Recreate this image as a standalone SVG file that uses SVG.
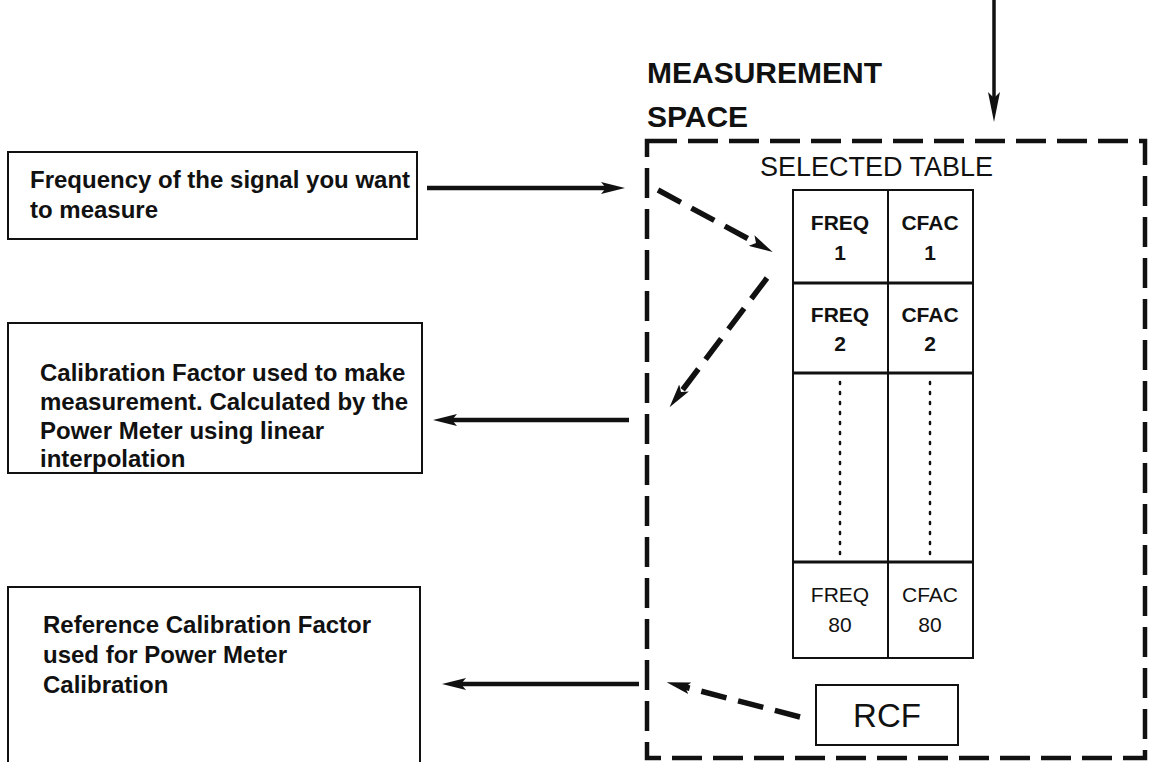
<svg xmlns="http://www.w3.org/2000/svg" width="1151" height="762" viewBox="0 0 1151 762">
<style>
.bg{fill:#fff}
.box{fill:#fff;stroke:#111;stroke-width:2}
.lbl{font-family:"Liberation Sans",Arial,sans-serif;font-weight:bold;font-size:24px;fill:#111}
.cell{font-family:"Liberation Sans",Arial,sans-serif;font-weight:bold;font-size:21px;fill:#111;text-anchor:middle}
.title{font-family:"Liberation Sans",Arial,sans-serif;font-weight:bold;font-size:30px;fill:#111}
.sel{font-family:"Liberation Sans",Arial,sans-serif;font-size:27px;fill:#111}
.rcf{font-family:"Liberation Sans",Arial,sans-serif;font-size:33px;fill:#111;text-anchor:middle}
.solid{fill:none;stroke:#111;stroke-width:4.5}
.dash{fill:none;stroke:#111;stroke-width:5.5;stroke-dasharray:26 12}
.frame{fill:none;stroke:#111;stroke-width:4.5;stroke-dasharray:30 11}
.grid{fill:none;stroke:#111;stroke-width:2}
.dots{fill:none;stroke:#111;stroke-width:2.5;stroke-dasharray:2 8;stroke-linecap:round}
</style>
<defs>
<marker id="head" markerUnits="userSpaceOnUse" markerWidth="24" markerHeight="12" refX="5" refY="6" orient="auto">
<path d="M0,0 L24,6 L0,12 L5,6 z" fill="#111"/>
</marker>
<marker id="headLong" markerUnits="userSpaceOnUse" markerWidth="30" markerHeight="12" refX="6" refY="6" orient="auto">
<path d="M0,0 L30,6 L0,12 L6,6 z" fill="#111"/>
</marker>
</defs>
<rect class="bg" x="0" y="0" width="1151" height="762"/>

<g id="box-frequency">
<rect class="box" x="8" y="152" width="409" height="87"/>
<text class="lbl" x="30" y="188">Frequency of the signal you want</text>
<text class="lbl" x="30" y="218">to measure</text>
</g>

<g id="box-calfactor">
<rect class="box" x="8" y="323" width="414" height="150"/>
<text class="lbl" x="40" y="381">Calibration Factor used to make</text>
<text class="lbl" x="40" y="410">measurement. Calculated by the</text>
<text class="lbl" x="40" y="439">Power Meter using linear</text>
<text class="lbl" x="40" y="467">interpolation</text>
</g>

<g id="box-refcal">
<rect class="box" x="8" y="587" width="412" height="190"/>
<text class="lbl" x="43" y="633">Reference Calibration Factor</text>
<text class="lbl" x="43" y="663">used for Power Meter</text>
<text class="lbl" x="43" y="693">Calibration</text>
</g>

<g id="measurement-space">
<text class="title" x="647" y="83">MEASUREMENT</text>
<text class="title" x="647" y="127">SPACE</text>
<path class="frame" d="M647,141 H1145 V758 H647 Z"/>
<text class="sel" x="760" y="176">SELECTED TABLE</text>
</g>

<g id="selected-table">
<rect class="grid" x="793" y="190" width="180" height="468"/>
<line class="grid" x1="888" y1="190" x2="888" y2="658"/>
<line class="grid" x1="793" y1="283" x2="973" y2="283" style="stroke-width:3"/>
<line class="grid" x1="793" y1="373" x2="973" y2="373" style="stroke-width:3"/>
<line class="grid" x1="793" y1="562" x2="973" y2="562" style="stroke-width:3"/>
<text class="cell" x="840" y="230">FREQ</text>
<text class="cell" x="840" y="260">1</text>
<text class="cell" x="930" y="230">CFAC</text>
<text class="cell" x="930" y="260">1</text>
<text class="cell" x="840" y="322">FREQ</text>
<text class="cell" x="840" y="351">2</text>
<text class="cell" x="930" y="322">CFAC</text>
<text class="cell" x="930" y="351">2</text>
<line class="dots" x1="840" y1="382" x2="840" y2="556"/>
<line class="dots" x1="930" y1="382" x2="930" y2="556"/>
<text class="cell" x="840" y="602" style="font-weight:normal">FREQ</text>
<text class="cell" x="840" y="632" style="font-weight:normal">80</text>
<text class="cell" x="930" y="602" style="font-weight:normal">CFAC</text>
<text class="cell" x="930" y="632" style="font-weight:normal">80</text>
</g>

<g id="rcf">
<rect class="box" x="816" y="685" width="142" height="60"/>
<text class="rcf" x="887" y="727">RCF</text>
</g>

<g id="connectors">
<line class="solid" x1="994" y1="0" x2="994" y2="98" marker-end="url(#headLong)" style="stroke-width:3.5"/>
<line class="solid" x1="427" y1="188" x2="606" y2="188" marker-end="url(#head)"/>
<line class="solid" x1="629" y1="420" x2="452" y2="420" marker-end="url(#head)"/>
<line class="solid" x1="639" y1="684" x2="461" y2="684" marker-end="url(#head)"/>
<line class="dash" x1="658" y1="190" x2="756" y2="243" marker-end="url(#head)"/>
<line class="dash" x1="767" y1="278" x2="681" y2="392" marker-end="url(#head)"/>
<line class="dash" x1="800" y1="717" x2="685" y2="687" marker-end="url(#head)"/>
</g>
</svg>
